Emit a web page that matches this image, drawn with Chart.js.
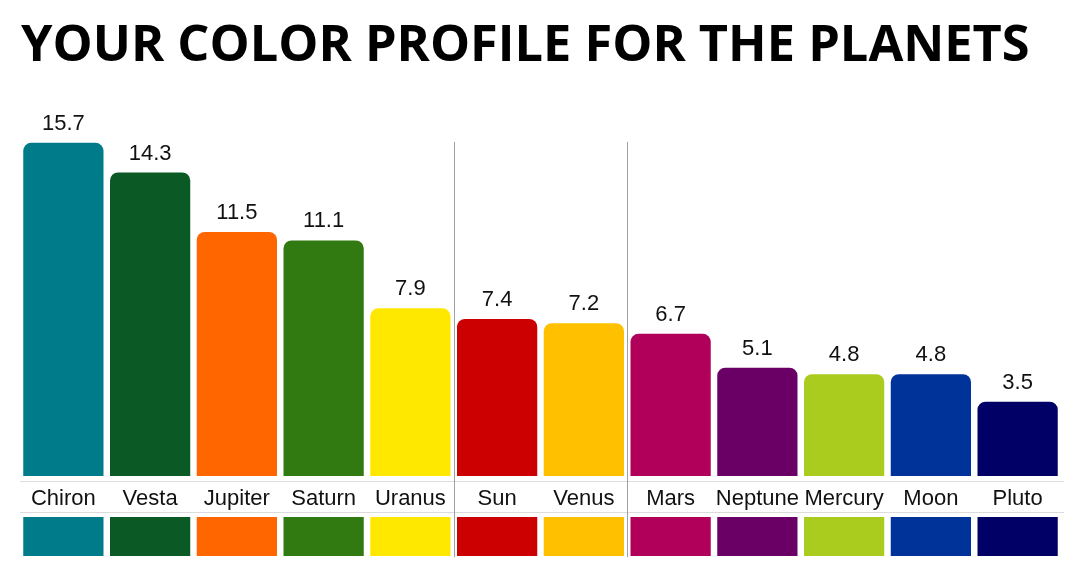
<!DOCTYPE html>
<html>
<head>
<meta charset="utf-8">
<script src="https://cdn.jsdelivr.net/npm/chart.js@4"></script>
<style>
  html, body { margin: 0; padding: 0; background: #fff; }
  #wrap { width: 1080px; height: 588px; position: relative; }
</style>
</head>
<body>
<div id="wrap"><canvas id="chart" width="1080" height="588"></canvas></div>
<script>
const titleText = 'YOUR COLOR PROFILE FOR THE PLANETS';
const planets = ['Chiron', 'Vesta', 'Jupiter', 'Saturn', 'Uranus', 'Sun', 'Venus', 'Mars', 'Neptune', 'Mercury', 'Moon', 'Pluto'];
const scores = [15.7, 14.3, 11.5, 11.1, 7.9, 7.4, 7.2, 6.7, 5.1, 4.8, 4.8, 3.5];
const planetColors = ['#007b8a', '#0b5a25', '#ff6600', '#317a12', '#ffe800', '#cc0000', '#ffc000', '#b0005a', '#6a0066', '#aacc1e', '#003399', '#000066'];
const dividersAfter = [4, 6]; // group separators after Uranus and Venus

// title, value labels, swatch row, separator lines
const decor = {
  id: 'decor',
  afterDraw(chart) {
    const ctx = chart.ctx;
    const x = chart.scales.x;
    const bars = chart.getDatasetMeta(0).data;

    ctx.save();
    ctx.fillStyle = '#000';
    ctx.font = 'bold 50.5px "Open Sans"';
    ctx.textBaseline = 'alphabetic';
    ctx.textAlign = 'left';
    ctx.fillText(titleText, 21, 61);

    ctx.font = '22px "Liberation Sans", Arial, sans-serif';
    ctx.fillStyle = '#111';
    ctx.textAlign = 'center';
    bars.forEach((b, i) => {
      ctx.fillText(scores[i].toFixed(1), b.x, b.y - 13);
    });

    // row lines
    ctx.strokeStyle = '#dcdcdc';
    ctx.lineWidth = 1;
    [481.5, 512.5].forEach(y => {
      ctx.beginPath();
      ctx.moveTo(20, y);
      ctx.lineTo(1064, y);
      ctx.stroke();
    });

    // swatches
    bars.forEach((b, i) => {
      ctx.fillStyle = planetColors[i];
      ctx.fillRect(b.x - b.width / 2, 517, b.width, 39);
    });

    // separators
    ctx.strokeStyle = '#a0a0a0';
    dividersAfter.forEach(i => {
      const px = Math.round((x.getPixelForValue(i) + x.getPixelForValue(i + 1)) / 2) + 0.5;
      ctx.beginPath();
      ctx.moveTo(px, 142);
      ctx.lineTo(px, 557);
      ctx.stroke();
    });
    ctx.restore();
  }
};

new Chart(document.getElementById('chart'), {
  type: 'bar',
  data: {
    labels: planets,
    datasets: [{
      data: scores,
      backgroundColor: planetColors,
      borderRadius: 8,
      borderSkipped: 'bottom',
      categoryPercentage: 1,
      barPercentage: 0.925
    }]
  },
  options: {
    responsive: false,
    animation: false,
    devicePixelRatio: 1,
    layout: { padding: { top: 94, left: 20, right: 19, bottom: 0 } },
    plugins: { legend: { display: false }, tooltip: { enabled: false }, title: { display: false } },
    scales: {
      x: {
        grid: { display: false, drawTicks: false, tickLength: 0 },
        border: { display: false },
        ticks: {
          color: '#111',
          font: { family: '"Liberation Sans", Arial, sans-serif', size: 22 },
          padding: 10,
          maxRotation: 0,
          autoSkip: false
        },
        afterFit(scale) { scale.height = 112; }
      },
      y: { display: false, min: 0, max: 18 }
    }
  },
  plugins: [decor]
});
</script>
</body>
</html>
